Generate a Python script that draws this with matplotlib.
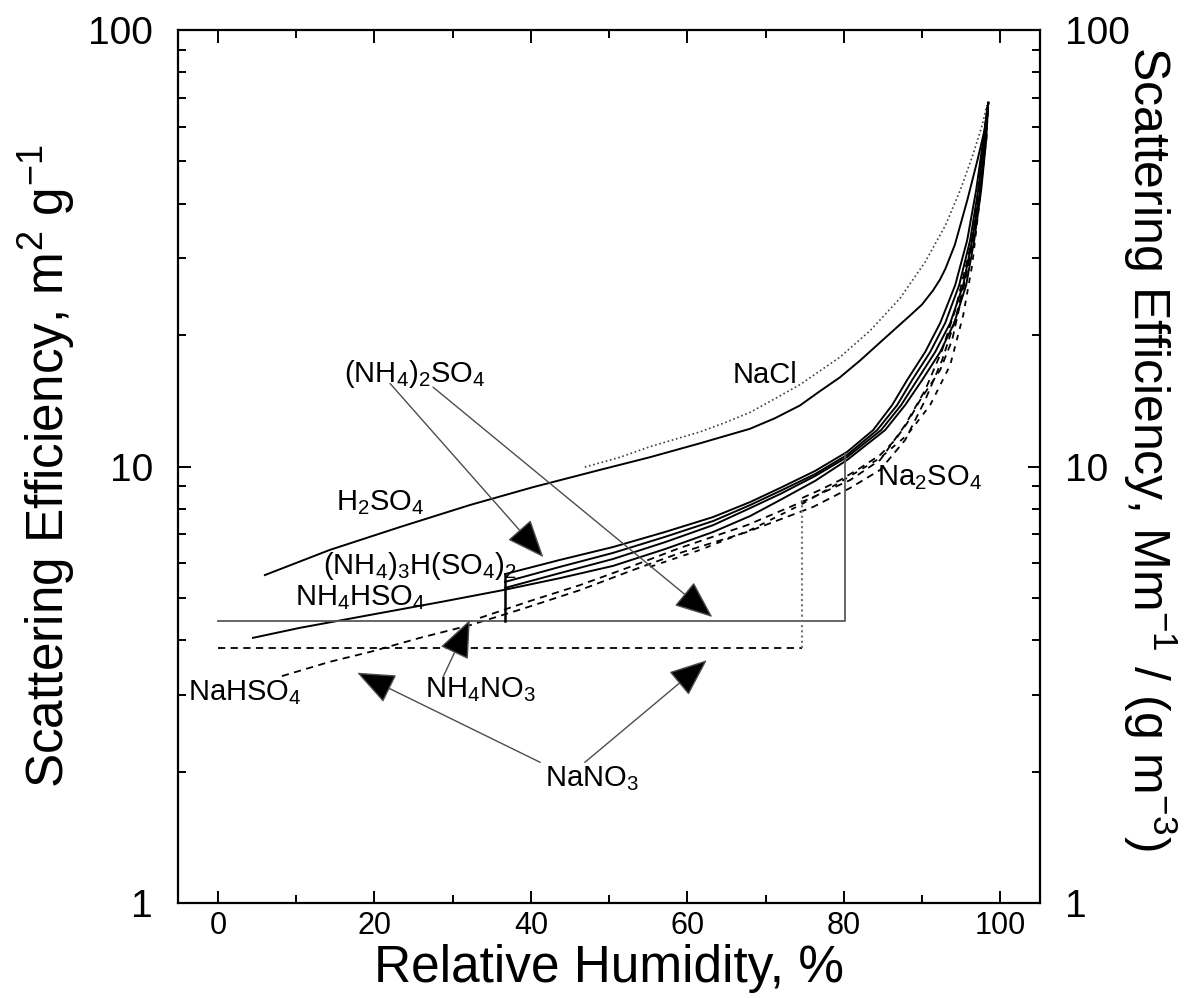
import matplotlib
matplotlib.use('Agg')
import matplotlib.pyplot as plt
from matplotlib.ticker import FixedLocator, MultipleLocator, NullFormatter, LogLocator, FixedFormatter

plt.rcParams['font.family'] = ['Liberation Sans', 'DejaVu Sans']
plt.rcParams['mathtext.fontset'] = 'custom'
plt.rcParams['mathtext.rm'] = 'Liberation Sans'
plt.rcParams['mathtext.it'] = 'Liberation Sans:italic'
plt.rcParams['mathtext.default'] = 'regular'

# --- curves: relative humidity (%) vs scattering efficiency (m2/g) ---
h2so4_rh = [6.0, 14.3, 23.3, 32.2, 40.3, 48.8, 55.2, 61.6, 68.0, 71.2, 74.4, 77.0, 79.5, 82.1,
            85.0, 88.5, 90.0, 91.4, 92.3, 93.0, 94.2, 95.8, 97.1, 98.0, 98.5]
h2so4_eff = [5.64, 6.44, 7.27, 8.16, 8.97, 9.82, 10.5, 11.3, 12.2, 12.9, 13.8, 14.9, 16.0, 17.5,
             19.5, 22.2, 23.5, 25.3, 26.8, 28.4, 32.2, 40.8, 50.4, 59.0, 68.2]

nacl_rh = [46.9, 51.4, 55.2, 61.6, 64.8, 68.0, 71.2, 74.4, 79.5, 83.4, 87.2, 90.4, 93.0, 94.9,
           96.5, 97.7, 98.3]
nacl_eff = [9.97, 10.5, 11.1, 12.0, 12.6, 13.3, 14.3, 15.4, 17.8, 20.5, 24.3, 29.4, 35.7, 43.0,
            51.7, 60.6, 67.3]

# (NH4)2SO4 metastable / upper branch
as_rh = [36.70, 43.73, 50.51, 57.16, 63.30, 68.03, 71.87, 76.34, 80.43, 83.76, 86.19, 88.11,
         90.41, 92.33, 94.25, 95.78, 96.93, 97.83, 98.47]
as_eff = [5.67, 6.11, 6.54, 7.08, 7.66, 8.29, 8.93, 9.77, 10.80, 12.12, 13.83, 15.79,
          18.30, 21.32, 26.05, 33.0, 43.0, 56.0, 68.1]
# (NH4)2SO4 dry step (horizontal + jump at deliquescence) and efflorescence step
as_dry_rh = [0.0, 80.2, 80.2]
as_dry_eff = [4.43, 4.43, 10.7]
as_efl_rh = [36.7, 36.7]
as_efl_eff = [4.43, 5.67]

# (NH4)3H(SO4)2
let_rh = [36.70, 43.73, 50.51, 57.16, 63.30, 68.03, 71.87, 76.34, 80.43, 84.27, 86.83, 88.75,
          91.05, 92.97, 94.76, 96.16, 97.19, 97.95, 98.47]
let_eff = [5.44, 5.89, 6.34, 6.90, 7.50, 8.16, 8.79, 9.61, 10.63, 12.12, 13.83, 15.79,
           18.30, 21.32, 26.05, 33.0, 43.0, 56.0, 68.1]

sulf3_rh = [36.70, 43.73, 50.51, 57.16, 63.30, 68.03, 71.87, 76.34, 80.43, 84.78, 87.34, 89.39,
            91.69, 93.61, 95.27, 96.42, 97.44, 98.08, 98.47]
sulf3_eff = [5.27, 5.70, 6.14, 6.71, 7.34, 8.03, 8.65, 9.51, 10.51, 12.12, 13.83, 15.79,
             18.30, 21.32, 26.05, 33.0, 43.0, 56.0, 68.1]

nh4hso4_rh = [4.48, 10.49, 19.44, 28.39, 36.45, 43.73, 50.51, 57.16, 63.30, 68.03, 71.87, 76.34,
              80.43, 85.29, 87.85, 90.03, 92.33, 94.12, 95.65, 96.68, 97.57, 98.21, 98.47]
nh4hso4_eff = [4.05, 4.27, 4.57, 4.89, 5.21, 5.55, 5.92, 6.47, 7.08, 7.70, 8.38, 9.27,
               10.35, 12.12, 13.83, 15.79, 18.30, 21.32, 26.05, 33.0, 43.0, 56.0, 68.1]

nahso4_rh = [8.18, 14.32, 19.44, 25.83, 32.23, 39.26, 46.29, 52.69, 59.08, 67.65, 76.09, 80.82,
             84.65, 87.85, 90.41, 92.58, 94.25, 95.65, 96.80, 97.57, 98.21, 98.47]
nahso4_eff = [3.31, 3.57, 3.76, 4.05, 4.33, 4.74, 5.21, 5.76, 6.34, 7.08, 8.08, 8.93,
              9.82, 11.50, 14.20, 17.54, 21.66, 27.47, 34.83, 44.15, 56.0, 68.1]

nh4no3_rh = [33.50, 39.90, 46.29, 52.69, 59.08, 67.65, 76.09, 80.82, 84.65, 87.85, 90.41, 92.58,
             94.25, 95.65, 96.80, 97.57, 98.21, 98.47]
nh4no3_eff = [4.50, 4.92, 5.35, 5.89, 6.51, 7.34, 8.51, 9.31, 10.35, 12.45, 14.97, 18.49,
              22.83, 28.95, 35.75, 45.33, 56.0, 68.1]

# NaNO3 dry step and upper branch
nano3_dry_rh = [0.0, 74.7]
nano3_dry_eff = [3.84, 3.84]
nano3_jump_rh = [74.7, 74.7]
nano3_jump_eff = [3.84, 8.47]
nano3_rh = [74.68, 76.98, 79.54, 82.10, 84.65, 86.57, 88.11, 89.77, 92.33, 93.86, 95.27, 96.42,
            97.19, 97.83, 98.34]
nano3_eff = [8.47, 8.84, 9.31, 9.92, 10.63, 11.50, 12.58, 14.20, 16.64, 19.49, 25.37, 33.0,
             43.0, 54.5, 66.6]

na2so4_rh = [55.24, 61.64, 68.03, 74.42, 79.54, 84.65, 88.11, 91.05, 93.61, 95.27, 96.42,
             97.31, 97.95, 98.34]
na2so4_eff = [5.89, 6.44, 7.15, 8.16, 9.21, 10.46, 11.81, 13.83, 17.08, 22.2, 28.95,
              39.7, 53.1, 66.6]

y_ticks = [1, 10, 100]
y_ticklabels = ['1', '10', '100']

fig = plt.figure(figsize=(11.94, 9.98), dpi=100)
ax = fig.add_axes([0.1491, 0.0952, 0.722, 0.8747])

solid = dict(color='k', lw=1.4, ls='-')
dashed = dict(color='k', lw=1.3, ls=(0, (4, 3)))

ax.plot(h2so4_rh, h2so4_eff, **solid)
ax.plot(nacl_rh, nacl_eff, color='0.25', lw=1.2, ls=(0, (1, 1.6)))
ax.plot(as_rh, as_eff, **solid)
ax.plot(let_rh, let_eff, **solid)
ax.plot(sulf3_rh, sulf3_eff, **solid)
ax.plot(nh4hso4_rh, nh4hso4_eff, **solid)
ax.plot(nahso4_rh, nahso4_eff, **dashed)
ax.plot(nh4no3_rh, nh4no3_eff, **dashed)
ax.plot(nano3_rh, nano3_eff, **dashed)
ax.plot(na2so4_rh, na2so4_eff, color='k', lw=1.3, ls=(0, (3, 3.5)))

ax.plot(as_dry_rh, as_dry_eff, color='0.35', lw=1.3)
ax.plot(as_efl_rh, as_efl_eff, color='k', lw=1.8)
ax.plot(nano3_dry_rh, nano3_dry_eff, **dashed)
ax.plot(nano3_jump_rh, nano3_jump_eff, color='0.45', lw=1.5, ls=(0, (1, 1.5)))

# labels
lab_kw = dict(fontsize=21, ha='center', va='center')
ax.text(25.2, 16.3, r'(NH$_4$)$_2$SO$_4$', **lab_kw)
ax.text(69.9, 16.2, 'NaCl', **lab_kw)
ax.text(20.8, 8.25, r'H$_2$SO$_4$', **lab_kw)
ax.text(91.0, 9.41, r'Na$_2$SO$_4$', **lab_kw)
ax.text(25.8, 5.92, r'(NH$_4$)$_3$H(SO$_4$)$_2$', **lab_kw)
ax.text(18.2, 5.02, r'NH$_4$HSO$_4$', **lab_kw)
ax.text(3.4, 3.03, r'NaHSO$_4$', **lab_kw)
ax.text(33.6, 3.08, r'NH$_4$NO$_3$', **lab_kw)
ax.text(47.8, 1.93, r'NaNO$_3$', **lab_kw)

arrow = dict(arrowstyle='-|>,head_length=1.1,head_width=0.45', mutation_scale=22,
             lw=1.0, ec='0.3', fc='k', shrinkA=0, shrinkB=0)
ax.annotate('', xy=(41.6, 6.20), xytext=(22.0, 15.5), arrowprops=arrow)
ax.annotate('', xy=(63.2, 4.52), xytext=(27.5, 15.2), arrowprops=arrow)
ax.annotate('', xy=(32.2, 4.45), xytext=(28.8, 3.30), arrowprops=arrow)
ax.annotate('', xy=(17.8, 3.37), xytext=(41.2, 2.10), arrowprops=arrow)
ax.annotate('', xy=(62.5, 3.60), xytext=(46.9, 2.10), arrowprops=arrow)

ax.set_yscale('log')
ax.set_xlim(-5.1, 105.1)
ax.set_ylim(1, 100)
ax.xaxis.set_major_locator(MultipleLocator(20))
ax.xaxis.set_minor_locator(MultipleLocator(10))
ax.yaxis.set_major_locator(FixedLocator(y_ticks))
ax.yaxis.set_major_formatter(FixedFormatter(y_ticklabels))
ax.yaxis.set_minor_locator(LogLocator(base=10, subs=range(2, 10)))
ax.yaxis.set_minor_formatter(NullFormatter())
ax.tick_params(which='both', direction='in', top=True, right=True, width=1.4)
ax.tick_params(which='major', length=9)
ax.tick_params(which='minor', length=6)
ax.tick_params(axis='y', which='major', labelsize=28, labelright=True, pad=18)
ax.tick_params(axis='x', which='major', labelsize=22, pad=6)
for s in ax.spines.values():
    s.set_linewidth(1.6)

ax.set_xlabel('Relative Humidity, %', fontsize=37, labelpad=2)
ax.set_ylabel(r'Scattering Efficiency, m$^2$ g$^{-1}$', fontsize=37, labelpad=8)
ax.text(1.128, 0.521, r'Scattering Efficiency, Mm$^{-1}$ / (g m$^{-3}$)', fontsize=36,
        rotation=-90, ha='center', va='center', transform=ax.transAxes)

fig.savefig('out.png', dpi=100)
